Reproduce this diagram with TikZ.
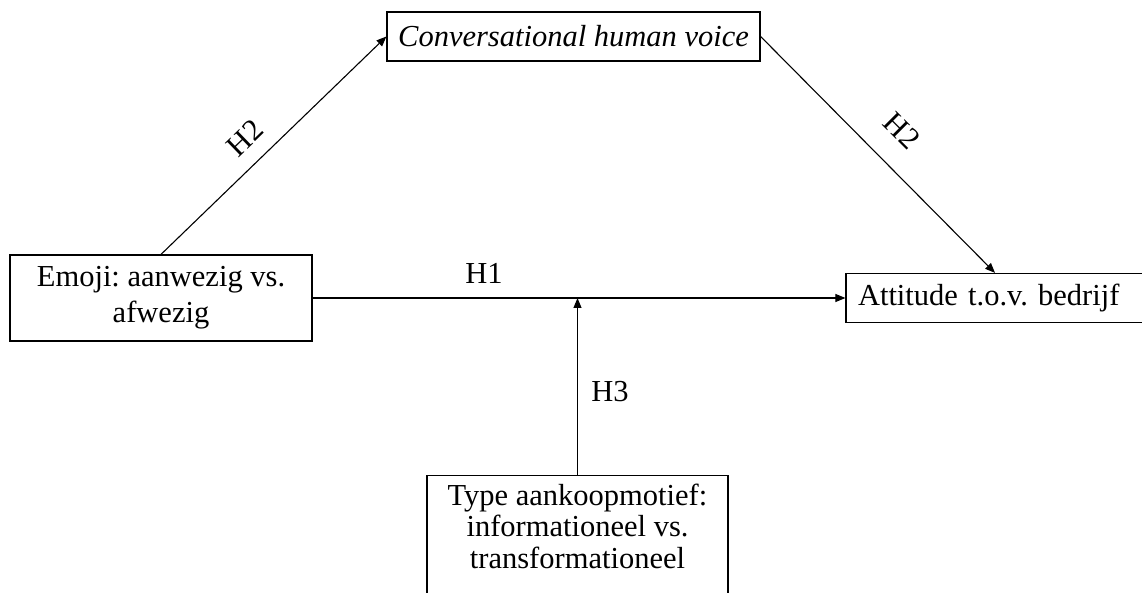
\documentclass[tikz,border=0pt]{standalone}
\usepackage{fontspec}
\setmainfont{Liberation Serif}
\usetikzlibrary{arrows.meta,calc}
\begin{document}
\frenchspacing
\begin{tikzpicture}[x=1pt,y=-1pt,
  every node/.style={font=\fontsize{30.5}{34}\selectfont, inner sep=0pt},
  box/.style={draw, line width=1.2pt},
  conn/.style={line width=1.1pt, -{Triangle[length=10pt,width=8pt]}},
  lbl/.style={}]
\useasboundingbox (0,0) rectangle (1142,593);
\clip (0,0) rectangle (1142,593);
\fill[white] (0,0) rectangle (1142,593);
% boxes
\node[box, minimum width=302, minimum height=86, align=center] (emo) at (161,298)
  {Emoji: aanwezig vs.\\[2pt]afwezig};
\node[box, minimum width=373, minimum height=49] (conv) at (573.5,36.5)
  {\itshape Conversational human voice};
\node[box, minimum width=298, minimum height=49, text width=274, align=left] (att) at (995,298)
  {Attitude t.o.v. bedrijf};
\node[box, minimum width=301, minimum height=150, anchor=north] (typ) at (577.5,475) {};
\node[align=center, font=\fontsize{30.5}{31.5}\selectfont] (typt) at (577.5,526)
  {Type aankoopmotief:\\informationeel vs.\\transformationeel};
% connectors
\coordinate (mod) at (typ.north |- emo.east);
\draw[conn] (emo.north) -- (conv.west);
\draw[conn] (conv.east) -- (att.north);
\draw[conn] (emo.east) -- (att.west);
\draw[conn] (typ.north) -- (mod);
% labels
\node[lbl] (h1) at (484,273) {H1};
\node[lbl] (h3) at (610,392) {H3};
\node[lbl, rotate=44] (h2a) at (245,138) {H2};
\node[lbl, rotate=-45] (h2b) at (902,131) {H2};
\end{tikzpicture}
\end{document}
